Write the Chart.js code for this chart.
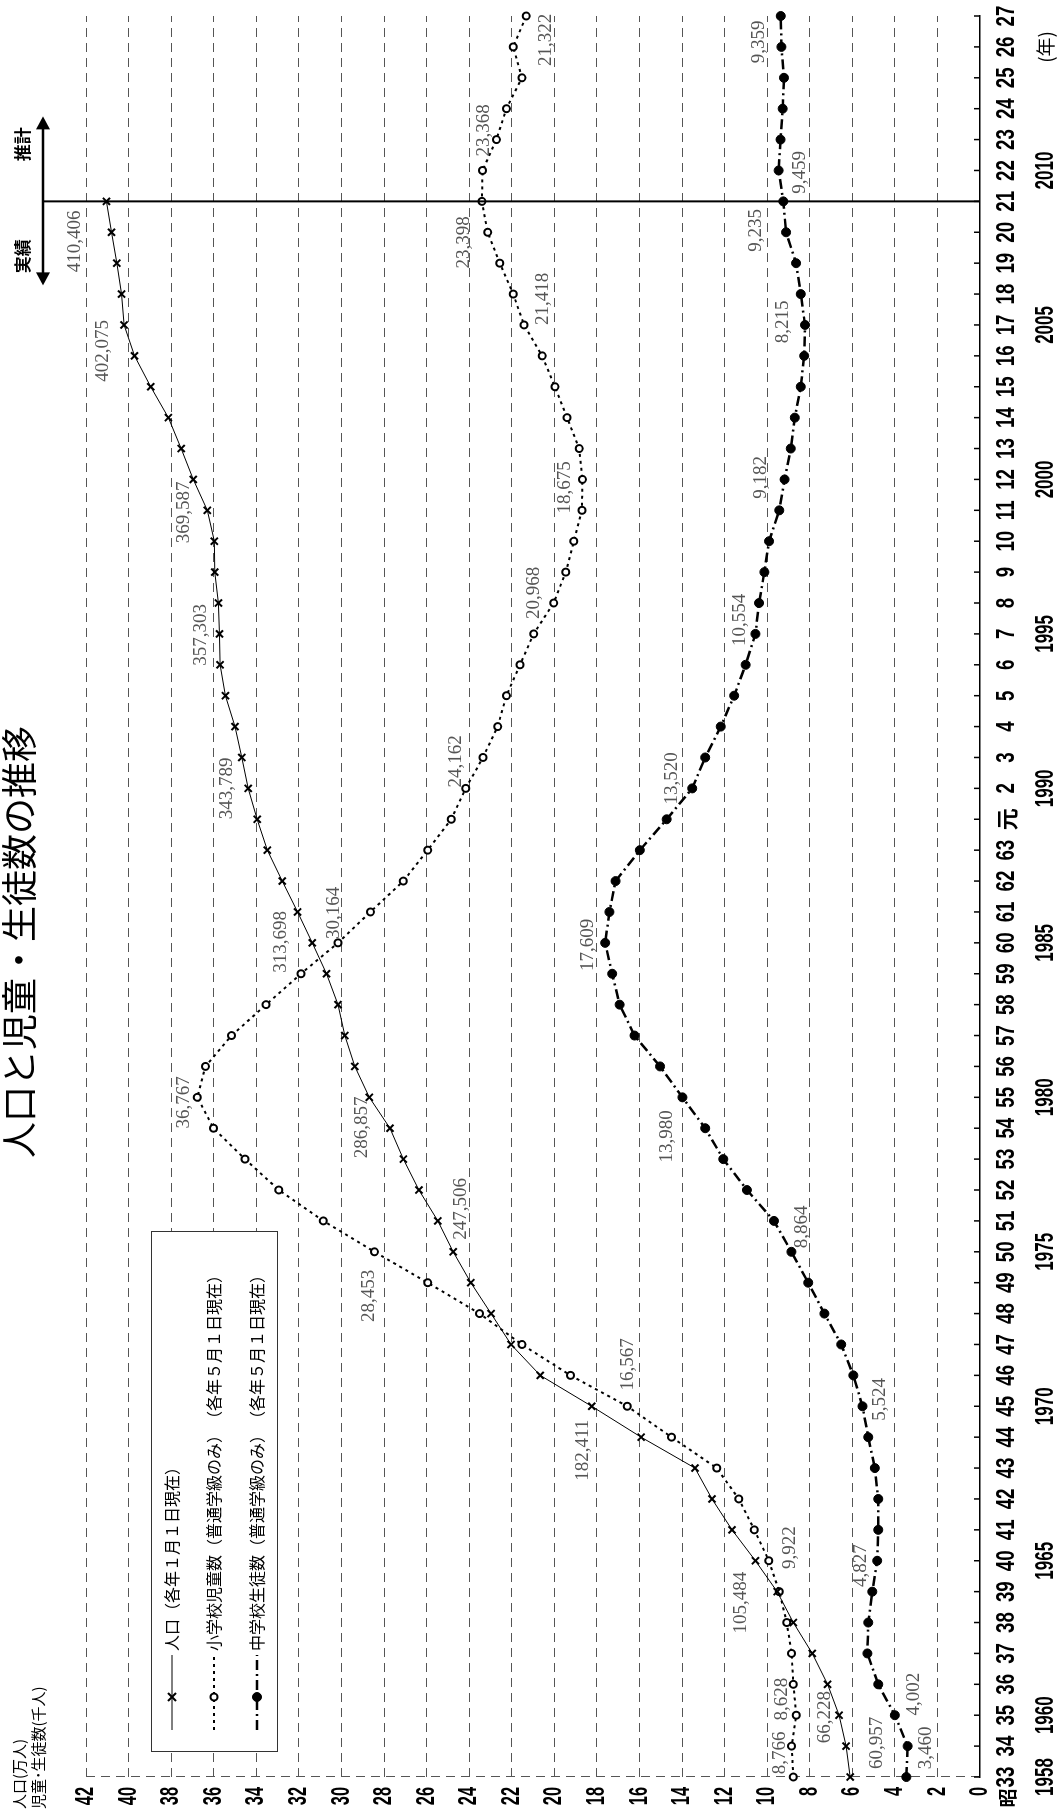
<!DOCTYPE html>
<html lang="ja">
<head>
<meta charset="utf-8">
<title>人口と児童・生徒数の推移</title>
<script src="https://cdn.jsdelivr.net/npm/chart.js@4/dist/chart.umd.min.js"></script>
<style>
  html, body { margin: 0; padding: 0; background: #fff; }
  body { width: 1057px; height: 1814px; overflow: hidden; position: relative; }
  /* the chart is drawn lying on its side, then turned a quarter turn */
  #wrap { position: absolute; left: 0; top: 0; width: 1814px; height: 1057px;
          transform-origin: 0 0; transform: translate(0, 1814px) rotate(-90deg); }
</style>
</head>
<body>
<div id="wrap"><canvas id="chart" width="1814" height="1057"></canvas></div>
<script>
// year labels (Japanese era) and the western year under some of them
const eraPrefix = '昭';
const eraLabels = ['33', '34', '35', '36', '37', '38', '39', '40', '41', '42',
    '43', '44', '45', '46', '47', '48', '49', '50', '51', '52',
    '53', '54', '55', '56', '57', '58', '59', '60', '61', '62',
    '63', '元', '2', '3', '4', '5', '6', '7', '8', '9',
    '10', '11', '12', '13', '14', '15', '16', '17', '18', '19',
    '20', '21', '22', '23', '24', '25', '26', '27'];
const westernLabels = ['1958', '', '1960', '', '', '', '', '1965', '', '',
    '', '', '1970', '', '', '', '', '1975', '', '',
    '', '', '1980', '', '', '', '', '1985', '', '',
    '', '', '1990', '', '', '', '', '1995', '', '',
    '', '', '2000', '', '', '', '', '2005', '', '',
    '', '', '2010', '', '', '', '(年)', ''];
const lastActual = 51; // index of H21 (2009), last actual figure

// population (10,000 people), 1958-2009
const population = [6.10, 6.29, 6.62, 7.16, 7.88, 8.77, 9.53, 10.55, 11.65, 12.59,
    13.39, 15.92, 18.24, 20.66, 22.03, 22.97, 23.92, 24.75, 25.47, 26.36,
    27.09, 27.72, 28.69, 29.37, 29.84, 30.16, 30.70, 31.37, 32.06, 32.78,
    33.48, 33.96, 34.38, 34.68, 35.00, 35.45, 35.70, 35.73, 35.78, 35.95,
    35.97, 36.30, 36.96, 37.53, 38.13, 38.96, 39.72, 40.21, 40.33, 40.55,
    40.80, 41.04];
// elementary school pupils (1,000 people), 1958-2015
const elementary = [8.77, 8.85, 8.63, 8.77, 8.85, 9.08, 9.43, 9.92, 10.60, 11.33,
    12.37, 14.49, 16.57, 19.24, 21.52, 23.51, 25.95, 28.45, 30.85, 32.94,
    34.53, 36.01, 36.77, 36.39, 35.16, 33.54, 31.90, 30.16, 28.64, 27.09,
    25.95, 24.84, 24.16, 23.35, 22.66, 22.25, 21.61, 20.97, 20.03, 19.46,
    19.08, 18.70, 18.68, 18.83, 19.40, 19.97, 20.57, 21.42, 21.93, 22.56,
    23.13, 23.40, 23.37, 22.72, 22.25, 21.52, 21.93, 21.32];
// junior high school students (1,000 people), 1958-2015
const juniorHigh = [3.46, 3.40, 4.00, 4.78, 5.29, 5.25, 5.06, 4.83, 4.78, 4.78,
    4.94, 5.25, 5.52, 5.95, 6.52, 7.31, 8.07, 8.86, 9.68, 10.95,
    12.06, 12.91, 13.98, 15.03, 16.23, 16.93, 17.28, 17.61, 17.41, 17.12,
    15.98, 14.72, 13.52, 12.91, 12.18, 11.55, 11.01, 10.55, 10.38, 10.13,
    9.91, 9.43, 9.18, 8.89, 8.70, 8.42, 8.26, 8.22, 8.42, 8.64,
    9.11, 9.24, 9.46, 9.37, 9.27, 9.21, 9.33, 9.36];

// figures printed next to some points
const popNoteIdx = [0, 2, 7, 12, 17, 22, 27, 32, 37, 42, 47, 51];
const popNoteText = ['60,957', '66,228', '105,484', '182,411', '247,506', '286,857',
    '313,698', '343,789', '357,303', '369,587', '402,075', '410,406'];
const schoolNoteIdx = [0, 2, 7, 12, 17, 22, 27, 32, 37, 42, 47, 51, 52, 57];
const elemNoteText = ['8,766', '8,628', '9,922', '16,567', '28,453', '36,767', '30,164',
    '24,162', '20,968', '18,675', '21,418', '23,398', '23,368', '21,322'];
const juniorNoteText = ['3,460', '4,002', '4,827', '5,524', '8,864', '13,980', '17,609',
    '13,520', '10,554', '9,182', '8,215', '9,235', '9,459', '9,359'];

const legendNames = ['人口（各年１月１日現在）', '小学校児童数（普通学級のみ）', '中学校生徒数（普通学級のみ）'];
const legendDates = ['', '（各年５月１日現在）', '（各年５月１日現在）'];

// where each printed figure sits relative to its point
const popNoteOffset = [[34, 27], [-2, -14], [-42, -14], [-44, -9], [43, 8], [-30, -7],
    [1, -31], [0, -21], [-1, -18], [-33, -9], [-26, -21], [-40, -31]];
const elemNoteOffset = [[24, -13], [16, -14], [13, 21], [42, 1], [-44, -5], [-5, -13], [30, -4],
    [27, -10], [41, 0], [-8, -17], [26, 19], [-41, -18], [40, 1], [-24, 20]];
const juniorNoteOffset = [[29, 20], [21, 19], [-5, -16], [7, 18], [25, 11], [-39, -15], [-2, -17],
    [10, -20], [14, -15], [2, -24], [3, -22], [-29, -27], [-2, 21], [-26, -22]];

const JP = "'Noto Sans CJK JP', sans-serif";
const SANS = "'Liberation Sans', Arial, sans-serif";
const SERIF = "'Liberation Serif', serif";

// text squeezed along its reading direction, like the narrow face in the original
function squeezedText(ctx, text, x, y, squeeze) {
    ctx.save();
    ctx.translate(x, y);
    ctx.scale(squeeze, 1);
    ctx.fillText(text, 0, 0);
    ctx.restore();
}

function drawMarker(ctx, ds, x, y) {
    ctx.save();
    ctx.setLineDash([]);
    ctx.lineWidth = ds.pointBorderWidth;
    ctx.strokeStyle = '#000';
    ctx.fillStyle = ds.pointBackgroundColor;
    const r = ds.pointRadius;
    if (ds.pointStyle === 'crossRot') {
        ctx.beginPath();
        ctx.moveTo(x - r * 0.8, y - r * 0.8); ctx.lineTo(x + r * 0.8, y + r * 0.8);
        ctx.moveTo(x - r * 0.8, y + r * 0.8); ctx.lineTo(x + r * 0.8, y - r * 0.8);
        ctx.stroke();
    } else {
        ctx.beginPath();
        ctx.arc(x, y, r, 0, Math.PI * 2);
        ctx.fill();
        ctx.stroke();
    }
    ctx.restore();
}

function drawNotes(chart, dsIndex, idx, texts, offsets) {
    const ctx = chart.ctx;
    const meta = chart.getDatasetMeta(dsIndex);
    ctx.save();
    ctx.font = '19px ' + SERIF;
    ctx.fillStyle = '#555';
    ctx.textAlign = 'center';
    ctx.textBaseline = 'middle';
    idx.forEach((i, k) => {
        const pt = meta.data[i];
        ctx.fillText(texts[k], pt.x + offsets[k][0], pt.y + offsets[k][1]);
    });
    ctx.restore();
}

function drawAxisLabels(chart) {
    const ctx = chart.ctx;
    const area = chart.chartArea;
    const xs = chart.scales.x;
    const ys = chart.scales.y;
    ctx.save();
    ctx.fillStyle = '#000';
    ctx.textAlign = 'center';
    ctx.textBaseline = 'middle';
    xs.ticks.forEach((t, i) => {
        const px = xs.getPixelForTick(i);
        const lines = xs.getLabelForValue(t.value);
        if (lines[0] === '元') {
            ctx.font = 'bold 22px ' + JP;
            squeezedText(ctx, lines[0], px, area.bottom + 27, 1);
        } else {
            ctx.font = 'bold 26px ' + SANS;
            squeezedText(ctx, lines[0], px, area.bottom + 27, 0.72);
        }
        if (lines[1] === '(年)') {
            ctx.font = '19px ' + JP;
            squeezedText(ctx, lines[1], px, area.bottom + 66, 1);
        } else if (lines[1]) {
            ctx.font = 'bold 25px ' + SANS;
            squeezedText(ctx, lines[1], px, area.bottom + 66, 0.68);
        }
    });
    ctx.font = 'bold 19px ' + JP;
    ctx.fillText(eraPrefix, xs.getPixelForTick(0) - 21, area.bottom + 28);

    ctx.textAlign = 'right';
    ctx.font = 'bold 26px ' + SANS;
    ys.ticks.forEach(t => {
        squeezedText(ctx, String(t.value), ys.left + ys.width - 10, ys.getPixelForValue(t.value), 0.63);
    });
    ctx.restore();
}

function drawLegend(chart) {
    const ctx = chart.ctx;
    ctx.save();
    ctx.fillStyle = '#fff';
    ctx.fillRect(62, 151, 520, 126);
    ctx.strokeStyle = '#333';
    ctx.lineWidth = 1;
    ctx.strokeRect(62.5, 151.5, 520, 126);
    const rows = [172, 214, 257];
    chart.data.datasets.forEach((ds, i) => {
        const y = rows[i];
        ctx.save();
        ctx.strokeStyle = '#000';
        ctx.lineWidth = ds.borderWidth;
        ctx.setLineDash(ds.borderDash || []);
        ctx.beginPath();
        ctx.moveTo(84, y);
        ctx.lineTo(159, y);
        ctx.stroke();
        ctx.restore();
        drawMarker(ctx, ds, 117, y);
        ctx.fillStyle = '#000';
        ctx.font = '16px ' + JP;
        ctx.textBaseline = 'middle';
        ctx.textAlign = 'left';
        ctx.fillText(legendNames[i], 163, y);
        if (legendDates[i]) ctx.fillText(legendDates[i], 387, y);
    });
    ctx.restore();
}

const decorPlugin = {
    id: 'decor',
    afterDraw(chart) {
        const ctx = chart.ctx;
        const area = chart.chartArea;
        const xs = chart.scales.x;

        // short ticks pointing into the plot
        ctx.save();
        ctx.strokeStyle = '#000';
        ctx.lineWidth = 1.5;
        xs.ticks.forEach((t, i) => {
            const px = xs.getPixelForTick(i);
            ctx.beginPath();
            ctx.moveTo(px, area.bottom);
            ctx.lineTo(px, area.bottom - 6);
            ctx.stroke();
        });

        // actual / estimate divider with the double arrow
        const sx = xs.getPixelForValue(lastActual);
        const ay = area.top - 43;
        ctx.lineWidth = 2;
        ctx.beginPath();
        ctx.moveTo(sx, area.bottom);
        ctx.lineTo(sx, ay);
        ctx.stroke();
        ctx.lineWidth = 2.5;
        ctx.beginPath();
        ctx.moveTo(sx - 72, ay);
        ctx.lineTo(sx + 73, ay);
        ctx.stroke();
        ctx.fillStyle = '#000';
        ctx.beginPath();
        ctx.moveTo(sx - 84, ay); ctx.lineTo(sx - 71, ay - 7); ctx.lineTo(sx - 71, ay + 7);
        ctx.closePath(); ctx.fill();
        ctx.beginPath();
        ctx.moveTo(sx + 85, ay); ctx.lineTo(sx + 72, ay - 7); ctx.lineTo(sx + 72, ay + 7);
        ctx.closePath(); ctx.fill();
        ctx.font = 'bold 17px ' + JP;
        ctx.textAlign = 'center';
        ctx.textBaseline = 'middle';
        ctx.fillText('実績', sx - 55, ay - 20);
        ctx.fillText('推計', sx + 57, ay - 20);

        // title and axis caption
        ctx.font = '36px ' + JP;
        ctx.fillText('人口と児童・生徒数の推移', 872, 19);
        ctx.font = '15px ' + JP;
        ctx.textAlign = 'left';
        ctx.fillText('人口(万人)', 5, 19);
        ctx.fillText('児童･生徒数(千人)', 5, 38);
        ctx.restore();

        drawAxisLabels(chart);
        drawNotes(chart, 0, popNoteIdx, popNoteText, popNoteOffset);
        drawNotes(chart, 1, schoolNoteIdx, elemNoteText, elemNoteOffset);
        drawNotes(chart, 2, schoolNoteIdx, juniorNoteText, juniorNoteOffset);
        drawLegend(chart);
    }
};

new Chart(document.getElementById('chart'), {
    type: 'line',
    data: {
        labels: eraLabels.map((e, i) => [e, westernLabels[i]]),
        datasets: [{
            label: '人口',
            data: population,
            borderColor: '#000',
            borderWidth: 1,
            pointStyle: 'crossRot',
            pointRadius: 5,
            pointBorderWidth: 2,
            pointBorderColor: '#000',
            pointBackgroundColor: '#000',
            tension: 0
        }, {
            label: '小学校児童数',
            data: elementary,
            borderColor: '#000',
            borderWidth: 2,
            borderDash: [3, 4],
            pointStyle: 'circle',
            pointRadius: 3.5,
            pointBorderWidth: 2,
            pointBorderColor: '#000',
            pointBackgroundColor: '#fff',
            tension: 0
        }, {
            label: '中学校生徒数',
            data: juniorHigh,
            borderColor: '#000',
            borderWidth: 2.5,
            borderDash: [10, 4, 2, 4],
            pointStyle: 'circle',
            pointRadius: 4.5,
            pointBorderWidth: 1,
            pointBorderColor: '#000',
            pointBackgroundColor: '#000',
            tension: 0
        }]
    },
    options: {
        responsive: false,
        animation: false,
        devicePixelRatio: 1,
        layout: { padding: { top: 86, right: 16, left: 0, bottom: 0 } },
        plugins: {
            legend: { display: false },
            title: { display: false },
            tooltip: { enabled: false }
        },
        scales: {
            x: {
                offset: false,
                grid: {
                    drawTicks: false,
                    lineWidth: 1,
                    color: c => c.index === 0 ? '#555' : 'transparent'
                },
                border: { display: true, color: '#000', width: 1.5, dash: [9, 6] },
                // labels are drawn by the decor plugin, squeezed like the original face
                ticks: { display: false, autoSkip: false, maxRotation: 0 },
                afterFit: s => { s.height = 77; }
            },
            y: {
                min: 0,
                max: 42,
                grid: {
                    drawTicks: false,
                    lineWidth: 1,
                    color: c => c.tick.value === 0 ? 'transparent' : '#555'
                },
                border: { display: false, dash: [9, 6] },
                ticks: { display: false, stepSize: 2 },
                afterFit: s => { s.width = 37; }
            }
        }
    },
    plugins: [decorPlugin]
});
</script>
</body>
</html>
